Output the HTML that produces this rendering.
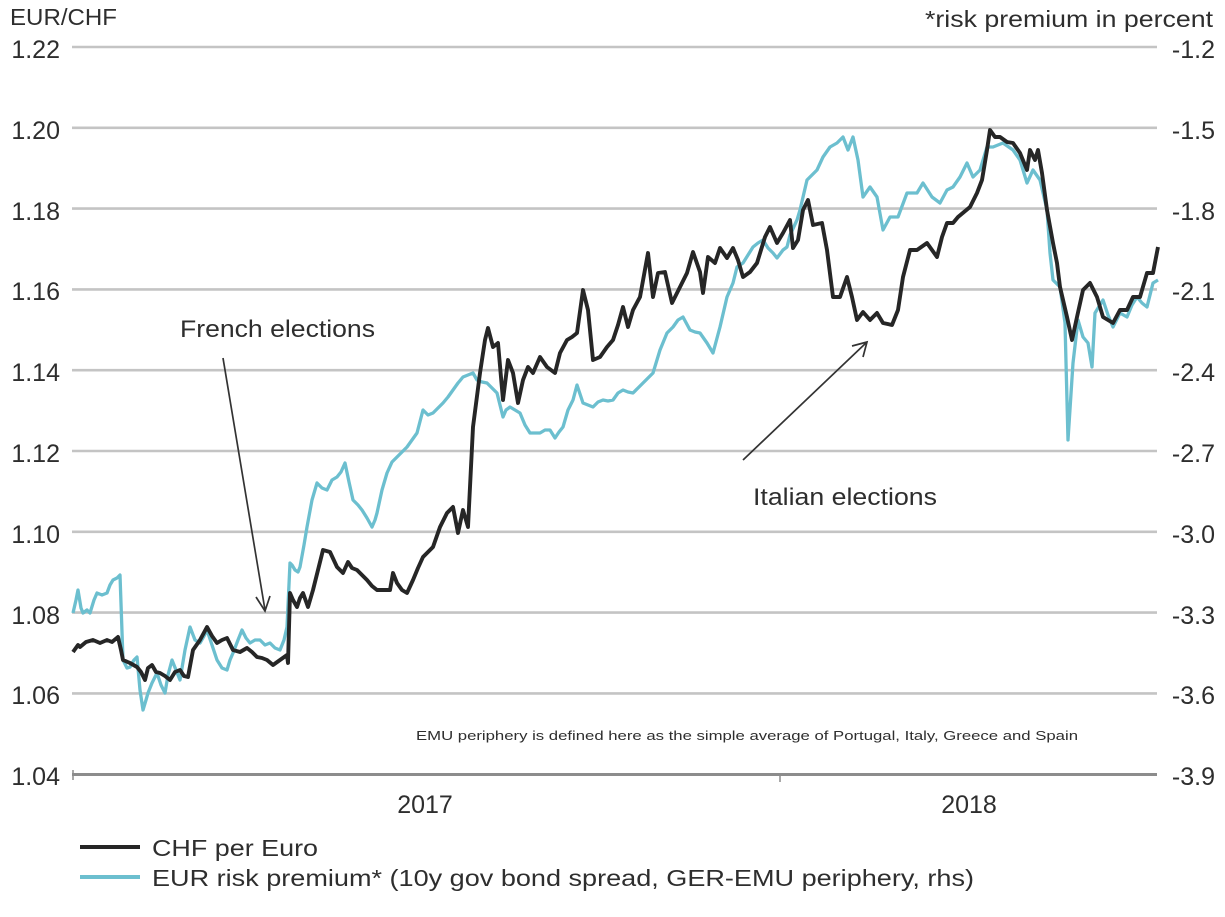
<!DOCTYPE html>
<html>
<head>
<meta charset="utf-8">
<style>
  html,body{margin:0;padding:0;background:#fff;}
  svg{display:block;}
  text{font-family:"Liberation Sans",Arial,sans-serif;fill:#2e2e2e;}
</style>
</head>
<body>
<svg width="1225" height="917" viewBox="0 0 1225 917" xmlns="http://www.w3.org/2000/svg">
  <rect x="0" y="0" width="1225" height="917" fill="#fff"/>

  <!-- gridlines -->
  <g stroke="#c4c4c4" stroke-width="2.6">
    <line x1="72" y1="47" x2="1157" y2="47"/>
    <line x1="72" y1="127.8" x2="1157" y2="127.8"/>
    <line x1="72" y1="208.6" x2="1157" y2="208.6"/>
    <line x1="72" y1="289.4" x2="1157" y2="289.4"/>
    <line x1="72" y1="370.2" x2="1157" y2="370.2"/>
    <line x1="72" y1="451" x2="1157" y2="451"/>
    <line x1="72" y1="531.8" x2="1157" y2="531.8"/>
    <line x1="72" y1="612.6" x2="1157" y2="612.6"/>
    <line x1="72" y1="693.4" x2="1157" y2="693.4"/>
  </g>
  <!-- x axis -->
  <line x1="72" y1="774.5" x2="1157" y2="774.5" stroke="#8c8c8c" stroke-width="3"/>
  <line x1="73" y1="770" x2="73" y2="780" stroke="#8c8c8c" stroke-width="1.5"/>
  <line x1="780" y1="774" x2="780" y2="782" stroke="#8c8c8c" stroke-width="1.5"/>

  <!-- left axis labels -->
  <text x="10" y="25" font-size="23" textLength="107" lengthAdjust="spacingAndGlyphs">EUR/CHF</text>
  <g font-size="25" text-anchor="end">
    <text x="60" y="58">1.22</text>
    <text x="60" y="139">1.20</text>
    <text x="60" y="220">1.18</text>
    <text x="60" y="300">1.16</text>
    <text x="60" y="381">1.14</text>
    <text x="60" y="462">1.12</text>
    <text x="60" y="543">1.10</text>
    <text x="60" y="624">1.08</text>
    <text x="60" y="704">1.06</text>
    <text x="60" y="785">1.04</text>
  </g>

  <!-- right axis labels -->
  <text x="1213" y="27" font-size="23" text-anchor="end" textLength="288" lengthAdjust="spacingAndGlyphs">*risk premium in percent</text>
  <g font-size="25" text-anchor="end">
    <text x="1215" y="58">-1.2</text>
    <text x="1215" y="139">-1.5</text>
    <text x="1215" y="220">-1.8</text>
    <text x="1215" y="300">-2.1</text>
    <text x="1215" y="381">-2.4</text>
    <text x="1215" y="462">-2.7</text>
    <text x="1215" y="543">-3.0</text>
    <text x="1215" y="624">-3.3</text>
    <text x="1215" y="704">-3.6</text>
    <text x="1215" y="785">-3.9</text>
  </g>

  <!-- x labels -->
  <text x="425" y="813" font-size="25" text-anchor="middle">2017</text>
  <text x="969" y="813" font-size="25" text-anchor="middle">2018</text>

  <!-- footnote -->
  <text x="416" y="740" font-size="13" textLength="662" lengthAdjust="spacingAndGlyphs">EMU periphery is defined here as the simple average of Portugal, Italy, Greece and Spain</text>

  <!-- cyan series -->
  <polyline fill="none" stroke="#6cbfcf" stroke-width="3.3" stroke-linejoin="round" points="
73,613 76,600 78,590 81,608 83,613 87,610 90,613 94,600 97,593 102,595 107,593 110,585 113,580 117,578 120,575
123,660 127,668 130,667 134,660 137,657 140,690 143,710 146,700 148,693 152,683 157,673 161,685 165,693 168,675
172,660 176,670 180,680 185,650 190,627 195,640 200,643 204,636 207,630 212,645 217,660 222,668 227,670 230,660
233,653 238,640 242,630 246,638 250,643 255,640 260,640 265,645 270,643 275,648 280,650 284,640 287,627 290,563
292,565 295,570 298,572 300,567 304,545 307,527 312,500 317,483 322,488 327,490 332,480 337,477 341,472 345,463
349,482 353,500 358,505 362,510 367,518 372,527 375,520 377,513 382,490 387,473 392,462 397,457 402,452 407,447
412,440 417,433 423,410 428,415 433,413 438,408 443,403 448,397 453,390 458,383 463,377 468,375 473,373 477,380
482,382 487,383 492,388 497,393 503,417 506,410 510,407 515,410 520,413 525,425 530,433 535,433 540,433 545,430
550,430 555,438 559,432 563,427 568,410 573,400 577,385 583,403 588,405 593,407 598,402 603,400 608,401 613,400
618,393 623,390 628,392 633,393 638,388 643,383 648,378 653,373 660,350 667,333 673,327 678,320 683,317 690,330
695,332 700,333 707,343 713,353 720,327 727,297 733,283 737,267 743,263 748,255 753,247 758,243 763,240 768,248
773,253 777,258 783,250 787,247 790,235 797,220 800,210 807,180 812,175 817,170 823,157 830,147 837,143 843,137
848,150 853,137 858,160 863,197 870,187 877,197 883,230 890,217 898,217 907,193 917,193 923,183 932,197 940,203
947,190 953,187 960,177 967,163 973,177 980,170 987,147 993,147 1003,143 1013,150 1020,160 1027,183 1033,170
1040,180 1047,210 1050,253 1053,280 1060,287 1065,323 1068,440 1073,363 1078,320 1083,337 1088,343 1092,367
1095,313 1103,300 1108,315 1113,327 1120,313 1127,317 1132,305 1137,297 1142,303 1147,307 1153,283 1158,280"/>

  <!-- black series -->
  <polyline fill="none" stroke="#262626" stroke-width="3.9" stroke-linejoin="round" points="
73,652 78,645 80,647 86,642 93,640 100,643 107,640 112,642 118,637 121,650 123,660 130,663 137,667 141,672 145,680
148,668 152,665 156,672 160,673 165,676 170,680 175,672 180,670 184,676 188,677 193,650 200,640 207,627 212,636
217,643 222,640 227,638 233,650 240,652 247,648 252,652 257,657 262,658 267,660 273,665 280,660 287,655 288,663
290,593 293,600 297,607 300,598 303,593 308,607 313,590 318,570 323,550 330,552 337,567 343,573 348,562 352,568
357,570 362,575 367,580 372,586 377,590 383,590 390,590 393,573 397,583 402,590 407,593 413,580 418,568 423,557
428,552 433,547 440,527 447,513 453,507 458,533 463,510 468,527 473,427 480,373 485,340 488,328 493,347 498,343
503,400 508,360 513,373 518,403 523,380 528,367 533,373 540,357 547,367 555,373 560,353 567,340 572,337 577,333
583,290 588,310 593,360 600,357 607,347 613,340 618,325 623,307 628,327 633,310 640,297 648,253 653,297 658,273
665,272 672,303 680,287 687,273 693,252 700,272 703,293 708,257 715,263 720,248 727,258 733,248 738,260 743,277
750,272 757,263 765,237 770,227 777,243 783,233 790,220 793,248 798,240 803,210 808,200 813,225 822,223 827,250
833,297 840,297 847,277 852,297 857,320 863,312 870,320 877,313 883,323 892,325 898,310 903,277 910,250 917,250
927,243 937,257 942,237 947,223 953,223 958,217 970,207 977,193 982,180 987,150 990,130 995,137 1000,137 1007,142
1013,143 1020,153 1027,170 1030,150 1035,160 1038,150 1042,173 1047,210 1053,243 1057,263 1060,287 1067,317
1072,340 1077,317 1083,290 1090,283 1097,297 1103,317 1113,323 1120,310 1127,310 1133,297 1140,297 1147,273
1153,273 1158,247"/>

  <!-- French elections annotation -->
  <text x="180" y="337" font-size="24" textLength="195" lengthAdjust="spacingAndGlyphs">French elections</text>
  <line x1="223" y1="358" x2="265" y2="610" stroke="#333" stroke-width="1.7"/>
  <polyline points="256,597 265,611 270,596" fill="none" stroke="#333" stroke-width="1.7"/>

  <!-- Italian elections annotation -->
  <text x="753" y="505" font-size="24" textLength="184" lengthAdjust="spacingAndGlyphs">Italian elections</text>
  <line x1="743" y1="460" x2="867" y2="342" stroke="#333" stroke-width="1.7"/>
  <polyline points="852,346 867,342 863,357" fill="none" stroke="#333" stroke-width="1.7"/>

  <!-- legend -->
  <line x1="80" y1="847" x2="140" y2="847" stroke="#262626" stroke-width="4"/>
  <text x="152" y="856" font-size="23" textLength="166" lengthAdjust="spacingAndGlyphs">CHF per Euro</text>
  <line x1="80" y1="877" x2="140" y2="877" stroke="#6cbfcf" stroke-width="4"/>
  <text x="152" y="886" font-size="23" textLength="822" lengthAdjust="spacingAndGlyphs">EUR risk premium* (10y gov bond spread, GER-EMU periphery, rhs)</text>
</svg>
</body>
</html>
